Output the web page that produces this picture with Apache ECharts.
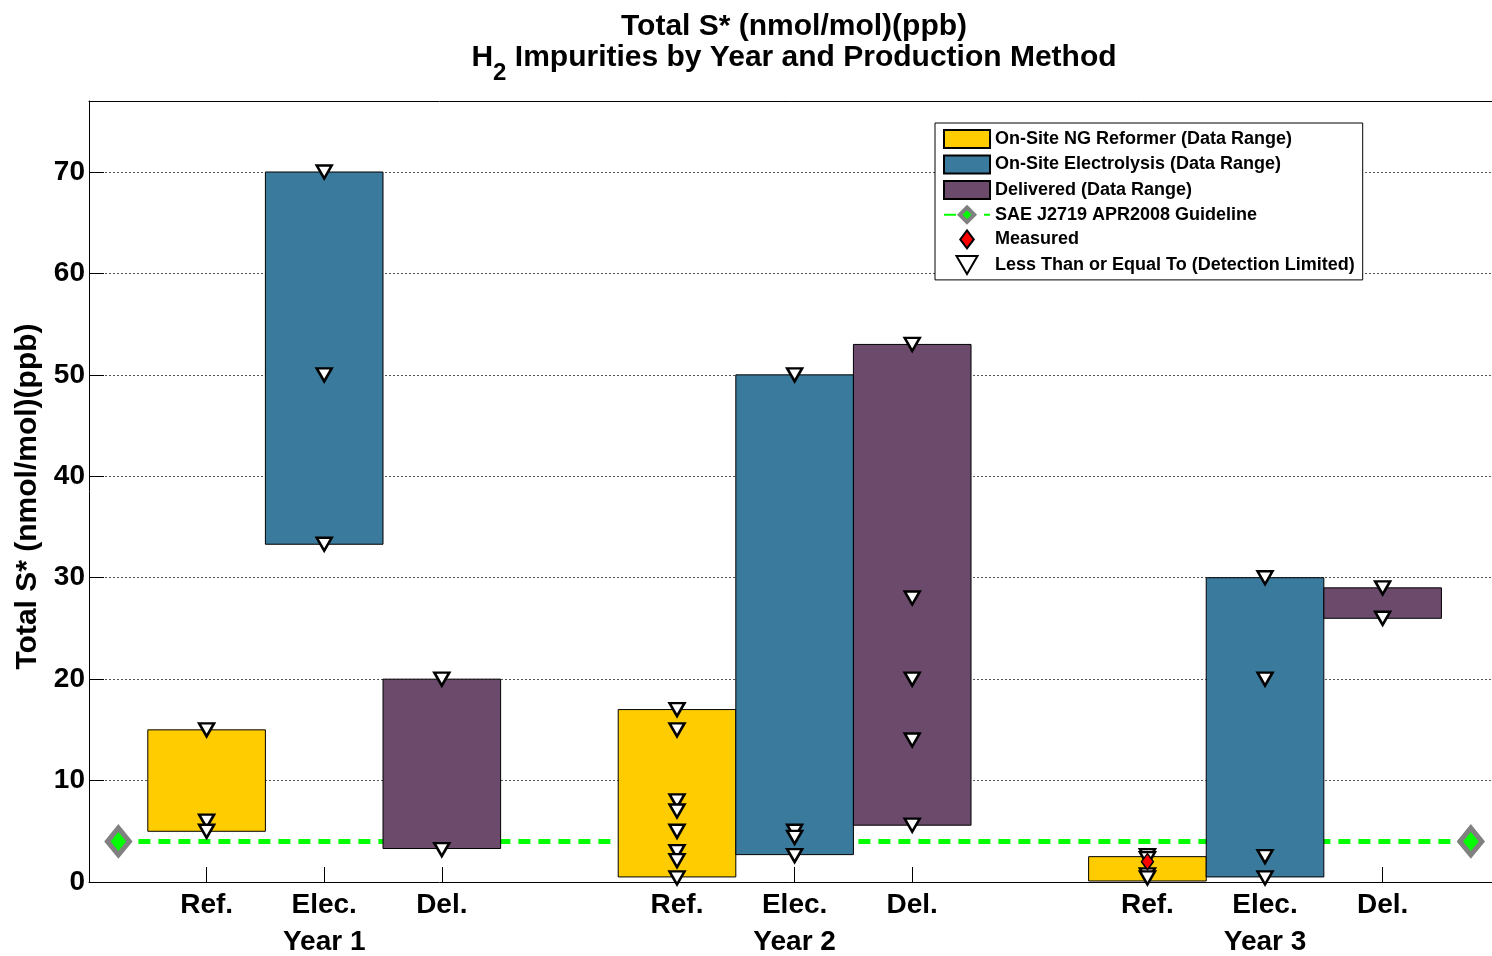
<!DOCTYPE html>
<html>
<head>
<meta charset="utf-8">
<script src="https://cdn.jsdelivr.net/npm/echarts@6/dist/echarts.min.js"></script>
<style>
  html, body { margin: 0; padding: 0; background: #fff; }
  #main { width: 1492px; height: 956px; }
</style>
</head>
<body>
<div id="main"></div>
<script>
// categories
var methods = ['Ref.', 'Elec.', 'Del.'];
var years = ['Year 1', 'Year 2', 'Year 3'];

// data range per year (low / high)
var refLow = [5, 0.5, 0.1];
var refHigh = [15, 17, 2.5];
var elecLow = [33.3, 2.7, 0.5];
var elecHigh = [70, 50, 30];
var delLow = [3.3, 5.6, 26];
var delHigh = [20, 53, 29];

// "less than or equal to" points per year
var refLE = [[15, 6, 5], [17, 15, 8, 7, 5, 3, 2.1, 0.4], [2.6, 2.3, 0.7, 0.4]];
var elecLE = [[70, 50, 33.3], [50, 5, 4.4, 2.6], [30, 20, 2.5, 0.4]];
var delLE = [[20, 3.2], [53, 28, 20, 14, 5.6], [29, 26]];
// measured points per year (reformer)
var refMeasured = [[], [], [2.0]];

// SAE guideline
var guideline = 4;
var guidelineX = [0.25, 11.75];

var font = 'Liberation Sans, Arial, Helvetica, sans-serif';

function xpos(yearIdx, methodIdx) {
  return yearIdx * 4 + 1 + methodIdx;
}

function rangeData(lows, highs, m) {
  var out = [];
  for (var i = 0; i < lows.length; i++) {
    out.push([xpos(i, m), lows[i], highs[i]]);
  }
  return out;
}

function pointData(list, m) {
  var out = [];
  for (var i = 0; i < list.length; i++) {
    for (var j = 0; j < list[i].length; j++) {
      out.push([xpos(i, m), list[i][j]]);
    }
  }
  return out;
}

var leData = pointData(refLE, 0).concat(pointData(elecLE, 1), pointData(delLE, 2));
var measuredData = pointData(refMeasured, 0);

var tickValues = [];
var yearValues = [];
for (var i = 0; i < years.length; i++) {
  yearValues.push(xpos(i, 1));
  for (var m = 0; m < methods.length; m++) tickValues.push(xpos(i, m));
}

function renderRange(params, api) {
  var x = api.value(0);
  var p1 = api.coord([x - 0.5, api.value(2)]);
  var p2 = api.coord([x + 0.5, api.value(1)]);
  return {
    type: 'rect',
    shape: { x: p1[0], y: p1[1], width: p2[0] - p1[0], height: p2[1] - p1[1] },
    style: { fill: api.visual('color'), stroke: '#000', lineWidth: 1 }
  };
}

function rangeSeries(name, color, data) {
  return {
    name: name,
    type: 'custom',
    renderItem: renderRange,
    itemStyle: { color: color, borderColor: '#000', borderWidth: 1 },
    encode: { x: 0, y: [1, 2] },
    data: data,
    z: 3
  };
}

var triPath = 'path://M0,0L14,0L7,12Z';
var diaPath = 'path://M6,0L12,8L6,16L0,8Z';

var chart = echarts.init(document.getElementById('main'));
chart.setOption({
  animation: false,
  backgroundColor: '#fff',
  textStyle: { fontFamily: font },
  title: {
    left: 789,
    top: 7,
    textAlign: 'center',
    text: '{a|Total S* (nmol/mol)(ppb)}\n{a|H}{s|2}{a| Impurities by Year and Production Method}',
    textStyle: {
      rich: {
        a: { fontFamily: font, fontSize: 30, fontWeight: 'bold', color: '#000', lineHeight: 31, verticalAlign: 'top' },
        s: { fontFamily: font, fontSize: 24, fontWeight: 'bold', color: '#000', lineHeight: 42, verticalAlign: 'bottom' }
      }
    }
  },
  legend: {
    left: 935,
    top: 123,
    orient: 'vertical',
    backgroundColor: '#fff',
    borderColor: '#000',
    borderWidth: 1,
    padding: [6, 8, 5, 8],
    itemGap: 5.5,
    itemWidth: 46,
    itemHeight: 18,
    textStyle: { fontFamily: font, fontSize: 18, fontWeight: 'bold', color: '#000' },
    data: [
      { name: 'On-Site NG Reformer (Data Range)', icon: 'rect' },
      { name: 'On-Site Electrolysis (Data Range)', icon: 'rect' },
      { name: 'Delivered (Data Range)', icon: 'rect' },
      { name: 'SAE J2719 APR2008 Guideline', itemStyle: { borderWidth: 4 } },
      { name: 'Measured' },
      { name: 'Less Than or Equal To (Detection Limited)' }
    ]
  },
  grid: {
    left: 89,
    top: 101,
    right: 0,
    height: 783,
    show: false
  },
  xAxis: [
    {
      type: 'value',
      min: 0,
      max: 11.93,
      axisLine: { lineStyle: { color: '#000', width: 1 } },
      axisTick: { customValues: tickValues, inside: true, length: 15, lineStyle: { color: '#000' } },
      splitLine: { show: false },
      axisLabel: {
        customValues: tickValues,
        margin: 9,
        fontFamily: font,
        fontSize: 28,
        fontWeight: 'bold',
        color: '#000',
        formatter: function (v) { return methods[(Math.round(v) - 1) % 4]; }
      }
    },
    {
      type: 'value',
      min: 0,
      max: 11.93,
      position: 'bottom',
      offset: 38,
      axisLine: { show: false },
      axisTick: { show: false },
      splitLine: { show: false },
      axisLabel: {
        customValues: yearValues,
        margin: 8,
        fontFamily: font,
        fontSize: 28,
        fontWeight: 'bold',
        color: '#000',
        formatter: function (v) { return years[Math.floor((Math.round(v) - 1) / 4)]; }
      }
    },
    {
      type: 'value',
      min: 0,
      max: 11.93,
      position: 'top',
      axisLine: { show: true, lineStyle: { color: '#000', width: 1 } },
      axisTick: { show: false },
      axisLabel: { show: false },
      splitLine: { show: false }
    }
  ],
  yAxis: {
    type: 'value',
    min: 0,
    max: 77,
    interval: 10,
    name: 'Total S* (nmol/mol)(ppb)',
    nameLocation: 'middle',
    nameGap: 46,
    nameTextStyle: { fontFamily: font, fontSize: 30, fontWeight: 'bold', color: '#000', padding: [0, 10, 0, 0] },
    axisLine: { show: true, lineStyle: { color: '#000', width: 1 } },
    axisTick: { inside: true, length: 15, lineStyle: { color: '#000' } },
    axisLabel: {
      showMaxLabel: false,
      margin: 4,
      fontFamily: font,
      fontSize: 28,
      fontWeight: 'bold',
      color: '#000'
    },
    splitLine: { show: true, lineStyle: { color: '#555', width: 1, type: [2, 2] } }
  },
  series: [
    rangeSeries('On-Site NG Reformer (Data Range)', '#FFCC00', rangeData(refLow, refHigh, 0)),
    rangeSeries('On-Site Electrolysis (Data Range)', '#3A7A9C', rangeData(elecLow, elecHigh, 1)),
    rangeSeries('Delivered (Data Range)', '#6B4A6B', rangeData(delLow, delHigh, 2)),
    {
      name: 'SAE J2719 APR2008 Guideline',
      type: 'line',
      data: [[guidelineX[0], guideline], [guidelineX[1], guideline]],
      symbol: 'diamond',
      symbolSize: [22, 27],
      showAllSymbol: true,
      lineStyle: { color: '#00FF00', width: 5, type: [12, 8] },
      itemStyle: { color: '#00FF00', borderColor: '#808080', borderWidth: 5 },
      z: 2
    },
    {
      name: 'Measured',
      type: 'scatter',
      data: measuredData,
      symbol: diaPath,
      symbolSize: [12, 16],
      itemStyle: { color: '#FF0000', borderColor: '#000', borderWidth: 1.5, opacity: 1 },
      z: 5
    },
    {
      name: 'Less Than or Equal To (Detection Limited)',
      type: 'scatter',
      data: leData,
      symbol: triPath,
      symbolSize: [15, 13],
      itemStyle: { color: '#FFFFFF', borderColor: '#000', borderWidth: 2.5, opacity: 1 },
      z: 4
    }
  ]
});
</script>
</body>
</html>
